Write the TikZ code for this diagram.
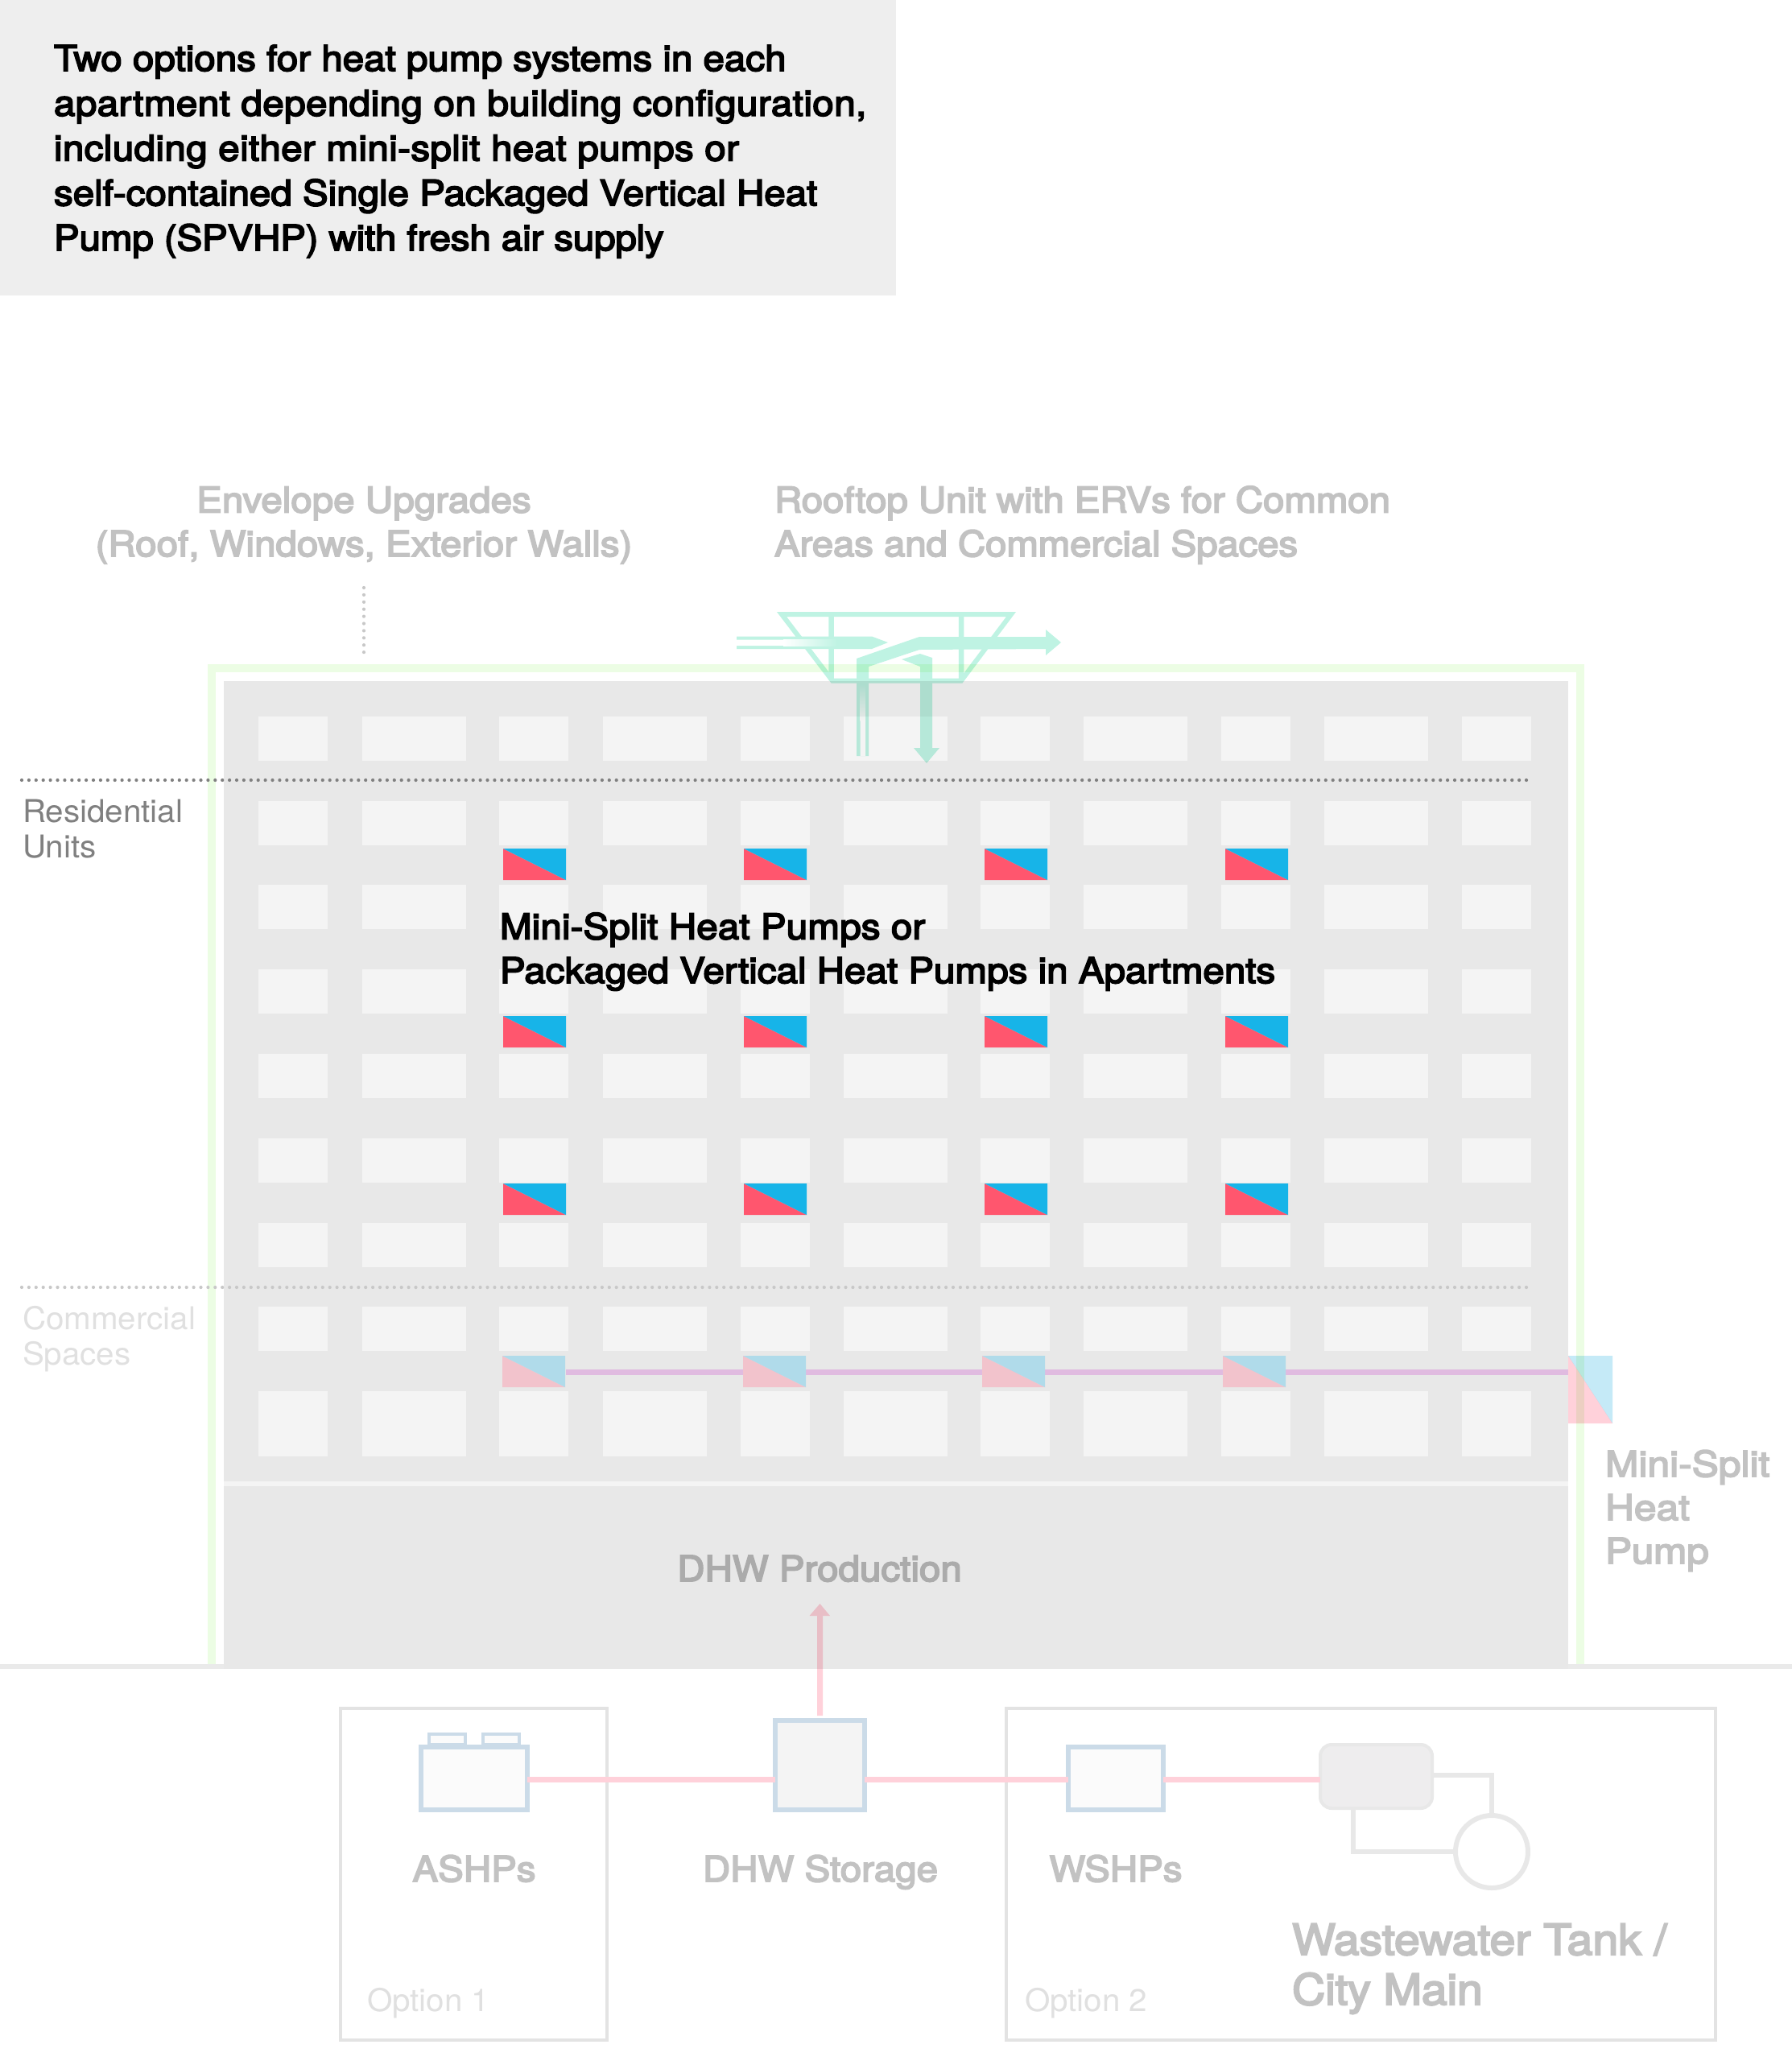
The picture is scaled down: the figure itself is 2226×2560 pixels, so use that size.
\documentclass[tikz,border=0pt]{standalone}
\usepackage{fontspec}
\usetikzlibrary{shadings}
\newfontfamily\medfont[FakeBold=4,FakeStretch=1.08]{TeX Gyre Heros}
\newfontfamily\minifont[FakeBold=4,FakeStretch=1.13]{TeX Gyre Heros}
\newfontfamily\regfont[FakeStretch=1.035]{TeX Gyre Heros}
\definecolor{buildgray}{HTML}{E8E8E8}
\definecolor{wingray}{HTML}{F4F4F4}
\definecolor{headgray}{HTML}{EEEEEE}
\definecolor{groundgray}{HTML}{EAEAEA}
\definecolor{framegreen}{HTML}{ECFDE4}
\definecolor{mint}{HTML}{BFF3E3}
\definecolor{hpblue}{HTML}{17B4E8}
\definecolor{hpred}{HTML}{FF566E}
\definecolor{fadeblue}{HTML}{B0DBEA}
\definecolor{fadered}{HTML}{F2C3CC}
\definecolor{lightblue}{HTML}{C5EAF7}
\definecolor{lightred}{HTML}{FFD1DA}
\definecolor{linepurple}{HTML}{E0BBE0}
\definecolor{unitblue}{HTML}{CBDBE8}
\definecolor{boxgray}{HTML}{E3E3E3}
\definecolor{labelgray}{HTML}{C2C2C2}
\definecolor{darklabel}{HTML}{ABABAB}
\definecolor{faintlabel}{HTML}{E0E0E0}
\definecolor{tankfill}{HTML}{EEEDEE}
\definecolor{tankline}{HTML}{E8E8E8}
\definecolor{dotdark}{HTML}{808080}
\definecolor{dotfaint}{HTML}{C8C8C8}
\tikzset{
  x=1pt,y=-1pt,
  lbl/.style={inner sep=0pt,outer sep=0pt,text depth=0pt},
  medtext/.style={lbl,font=\medfont\fontsize{44}{54.5}\selectfont},
  regtext/.style={lbl,font=\regfont\fontsize{39}{44}\selectfont},
  optionbox/.style={draw=boxgray,line width=4pt,fill=none},
  unitbox/.style={draw=unitblue,line width=6pt,inner sep=0pt,outer sep=0pt,fill=#1},
  pipe/.style={draw=lightred,line width=6.5pt},
  water/.style={draw=tankline,line width=6pt},
  dotline/.style={line width=4.2pt,dash pattern=on 0pt off 8.9pt,line cap=round},
}
\newcommand{\hptile}[4]{%
  \fill[#4] (#1,#2) -- (#1+78,#2+39) -- (#1,#2+39) -- cycle;
  \fill[#3] (#1,#2) -- (#1+78,#2) -- (#1+78,#2+39) -- cycle;
}
\newcommand{\spaced}[2]{{\addfontfeature{LetterSpace=#1}#2}}
\begin{document}
\begin{tikzpicture}
\useasboundingbox (0,0) rectangle (2226,2560);
\fill[white] (0,0) rectangle (2226,2560);
% header
\fill[headgray] (0,0) rectangle (1113,367);
\node[lbl,anchor=base west,align=left,text=black,font=\medfont\fontsize{44}{55.75}\selectfont] (head) at (67,311)
 {Two options for heat pump systems in each\\\spaced{1.0}{apartment depending on building configuration,}\\\spaced{0.9}{including either mini-split heat pumps or}\\self-contained Single Packaged Vertical Heat\\\spaced{-0.4}{Pump (SPVHP) with fresh air supply}};
% building
\fill[buildgray] (278,846) rectangle (1948,2073);
\fill[wingray] (278,1840) rectangle (1948,1846);
\foreach \r in {890,995,1099,1204,1309,1414,1519,1623}{
  \foreach \c in {321,620,920,1218,1517,1816}{\fill[wingray] (\c,\r) rectangle +(86,55);}
  \foreach \c in {450,749,1048,1346,1645}{\fill[wingray] (\c,\r) rectangle +(129,55);}
}
\foreach \c in {321,620,920,1218,1517,1816}{\fill[wingray] (\c,1728) rectangle +(86,81);}
\foreach \c in {450,749,1048,1346,1645}{\fill[wingray] (\c,1728) rectangle +(129,81);}
% green frame
\fill[framegreen] (258,825) rectangle (1968,835);
\fill[framegreen] (258,835) rectangle (268,2067);
\fill[framegreen] (1958,835) rectangle (1968,2067);
% ground
\fill[groundgray] (0,2067) rectangle (278,2073);
\fill[groundgray] (1948,2067) rectangle (2226,2073);
% dotted lines
\draw[dotline,dotdark] (27,969) -- (1901,969);
\draw[dotline,dotfaint] (27,1599) -- (1901,1599);
\draw[dotline,dotfaint] (452,730) -- (452,812);
% heat pump tiles
\foreach \c in {625,924,1223,1522}{
  \foreach \r in {1054,1262,1470}{\hptile{\c}{\r}{hpblue}{hpred}}
}
% refrigerant line
\coordinate (lineW) at (703,1704.5);
\coordinate (lineE) at (1948,1704.5);
\draw[draw=linepurple,line width=7pt] (lineW) -- (lineE);
\foreach \c in {624,923,1220,1519}{\hptile{\c}{1684}{fadeblue}{fadered}}
% outdoor unit
\begin{scope}[blend mode=multiply]
\fill[lightblue] (1948,1684) -- (2003,1684) -- (2003,1768) -- cycle;
\fill[lightred] (1948,1684) -- (2003,1768) -- (1948,1768) -- cycle;
\end{scope}
% rooftop unit
\begin{scope}[blend mode=multiply]
\begin{scope}[transparency group]
\draw[mint,line width=6pt,miter limit=10] (971,763) -- (1256,763) -- (1194,845.5) -- (1034,845.5) -- cycle;
\draw[mint,line width=6.5pt] (1032.5,763) -- (1032.5,845) (1194,763) -- (1194,845);
% intake
\fill[mint] (915,790.5) -- (1083,790.5) -- (1103,798) -- (1083,806) -- (915,806) -- cycle;
\fill[white] (915,794.5) rectangle (973,802);
\shade[left color=white,right color=mint] (973,794.5) rectangle (1040,802);
% supply
\fill[mint] (1064,939) -- (1064,818) -- (1142,791) -- (1299,791) -- (1299,782) -- (1318,798) -- (1299,814) -- (1299,806) -- (1142,807) -- (1079,828) -- (1079,939) -- cycle;
\shade[top color=mint,bottom color=white] (1068.5,850) rectangle (1075,895);
\fill[white] (1068.5,895) rectangle (1075,939);
% exhaust
\fill[mint] (1120,819) -- (1143,812) -- (1158,817) -- (1158,929) -- (1167,929) -- (1151,948) -- (1135,929) -- (1143,929) -- (1143,828) -- cycle;
\end{scope}
\end{scope}
% building labels
\node[medtext,anchor=base,align=center,text=labelgray] (envelope) at (452,691) {Envelope Upgrades\\(Roof, Windows, Exterior Walls)};
\node[medtext,anchor=base west,align=left,text=labelgray] (rooftop) at (962,691) {\spaced{-0.3}{Rooftop Unit with ERVs for Common}\\\spaced{-0.4}{Areas and Commercial Spaces}};
\node[regtext,anchor=base west,align=left,text=dotdark] (resid) at (28,1065) {Residential\\Units};
\node[regtext,anchor=base west,align=left,text=faintlabel] (comm) at (28,1695) {Commercial\\Spaces};
\node[medtext,anchor=base west,align=left,text=black] (hplabel) at (621,1221) {\spaced{0.3}{Mini-Split Heat Pumps or}\\Packaged Vertical Heat Pumps in Apartments};
\node[medtext,anchor=base,text=darklabel] (dhwprod) at (1018,1964) {DHW Production};
\node[lbl,anchor=base west,align=left,text=labelgray,font=\minifont\fontsize{44}{54}\selectfont] (minisplit) at (1994,1942) {Mini-Split\\Heat\\\spaced{-1}{Pump}};
% option boxes
\draw[optionbox] (423,2122) rectangle (754,2534);
\draw[optionbox] (1250,2122) rectangle (2131,2534);
% units
\node[unitbox=wingray!40,minimum width=132pt,minimum height=78pt] (ashp) at (589,2209) {};
\node[unitbox=wingray!40,minimum width=45pt,minimum height=13pt,line width=4pt] (fanA) at (555,2160) {};
\node[unitbox=wingray!40,minimum width=45pt,minimum height=13pt,line width=4pt] (fanB) at (622,2160) {};
\node[unitbox=wingray,minimum width=111pt,minimum height=111pt] (dhw) at (1018.5,2192.5) {};
\node[unitbox=wingray!40,minimum width=118pt,minimum height=78pt] (wshp) at (1386,2209) {};
\node[draw=tankline,fill=tankfill,line width=4pt,rounded corners=14pt,minimum width=139pt,minimum height=79pt,inner sep=0pt,outer sep=0pt] (tank) at (1709.5,2206.5) {};
\node[circle,draw=tankline,line width=6pt,minimum size=90pt,inner sep=0pt,outer sep=0pt,fill=white] (well) at (1853,2300) {};
\coordinate (riser) at (1018.5,1992);
% pipes
\draw[pipe] (ashp.east |- 0,2210.5) -- (dhw.west |- 0,2210.5);
\draw[pipe] (dhw.east |- 0,2210.5) -- (wshp.west |- 0,2210.5);
\draw[pipe] (wshp.east |- 0,2210.5) -- (tank.west |- 0,2210.5);
\draw[water] (tank.east |- 0,2205) -- (well.north |- 0,2205) -- (well.north);
\draw[water] (1681,2248) |- (well.west);
\begin{scope}[blend mode=multiply]
\fill[lightred] (1015,2131) -- (1015,2007) -- (1005.5,2007) -- (riser) -- (1031,2007) -- (1022,2007) -- (1022,2131) -- cycle;
\end{scope}
% bottom labels
\node[medtext,anchor=base,text=labelgray] (ashpl) at (589,2337) {ASHPs};
\node[medtext,anchor=base,text=labelgray] (dhwl) at (1019,2337) {DHW Storage};
\node[medtext,anchor=base,text=labelgray] (wshpl) at (1386,2337) {WSHPs};
\node[lbl,anchor=base west,align=left,text=labelgray,font=\medfont\fontsize{53}{62}\selectfont] (tankl) at (1605,2490) {Wastewater Tank /\\\spaced{-0.5}{City Main}};
\node[regtext,anchor=base west,text=faintlabel] (opt1) at (456,2498) {Option 1};
\node[regtext,anchor=base west,text=faintlabel] (opt2) at (1273,2498) {Option 2};
\end{tikzpicture}
\end{document}
